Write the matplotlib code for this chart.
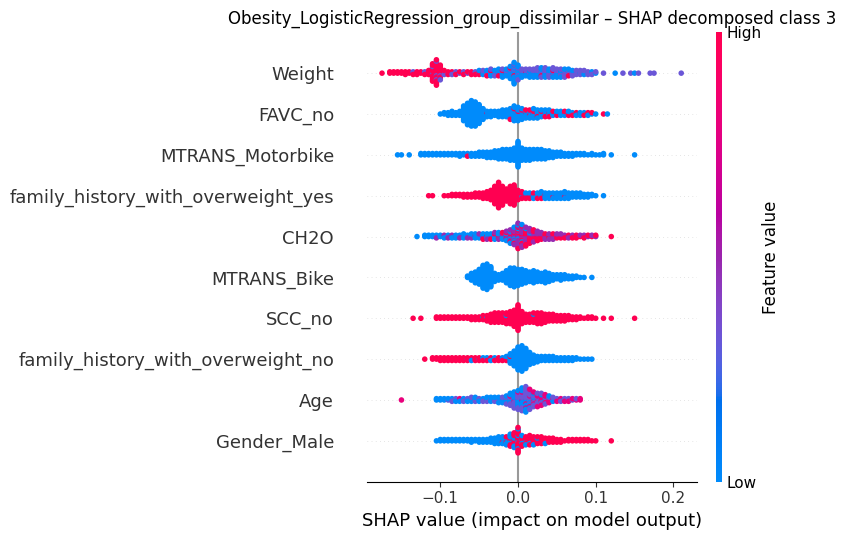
import numpy as np
import matplotlib
matplotlib.use("Agg")
import matplotlib.pyplot as plt
import matplotlib.cm as cm
from matplotlib.colors import LinearSegmentedColormap

# ---------------- data (SHAP value histograms, 0.005-wide bins) ----------------
BIN = 0.005
LOW_VAL, VIOLET_VAL, MID_VAL, HIGH_VAL = 0.0, 0.32, 0.48, 1.0

features = ["Weight", "FAVC_no", "MTRANS_Motorbike", "family_history_with_overweight_yes",
            "CH2O", "MTRANS_Bike", "SCC_no", "family_history_with_overweight_no",
            "Age", "Gender_Male"]

weight_start = -0.175
weight_low = [0,0,0,0,0,0,0,0,0,0, 0,0,0,0,0,0,0,0,0,0, 0,0,0,0,0,1,2,3,3,3,
              4,4,4,7,12,8,4,3,4,4, 4,4,4,3,3,3,3,2,2,2, 1,1,1,1,1,1,0,0,0,0,
              1,0,0,0,0,1,0,0,0,0, 0,0,0,0,0,0,0,0]
weight_mid = [0,0,0,0,0,0,0,0,1,0, 0,1,1,2,3,2,1,1,1,1, 1,1,1,1,1,1,1,1,2,1,
              1,2,1,2,4,4,3,2,3,3, 4,3,4,4,4,4,4,5,3,3, 3,3,3,2,2,1,0,1,0,0,
              0,0,1,0,1,0,1,0,0,1, 1,0,0,0,0,0,0,1]
weight_high = [1,0,2,2,2,2,3,2,2,3, 2,2,3,12,17,10,3,2,2,2, 1,2,1,2,2,2,1,1,1,1,
               1,1,1,1,1,0,0,1,0,0, 0,1,0,0,1,0,0,0,1,0, 0,0,0,0,0,0,0,0,0,0,
               0,0,0,0,0,0,0,0,0,0, 0,0,0,0,0,0,0,0]

favc_start = -0.100
favc_low = [1,2,3,4,3,4,12,17,20,19, 15,9,4,5,4,5,6,6,8,11, 10,7,5,5,5,5,4,4,4,3,
            3,3,2,2,2,2,2,2,1,1, 1,0,0,1]
favc_high = [0,0,0,0,0,0,0,0,0,0, 0,0,1,0,0,0,0,0,1,1, 1,2,2,2,3,2,2,2,2,1,
             1,1,2,2,1,1,1,1,2,1, 0,0,1,0]

moto_start = -0.155
moto_low = [1,1,0,1,0,0,2,2,2,2, 2,2,2,2,2,2,3,2,2,3, 3,4,4,5,5,6,7,8,8,9,
            10,20,10,9,9,8,8,8,7,6, 5,4,4,3,3,3,2,2,2,1, 2,1,1,2,0,1,0,0,0,0,
            0,1]
moto_high = [0,0,0,0,0,0,0,0,0,0, 0,0,0,0,0,0,0,0,1,0, 0,0,0,0,0,0,0,0,0,0,
             0,0,0,0,0,0,0,0,0,0, 0,0,0,0,0,0,0,0,0,0, 0,0,0,0,0,0,0,0,0,0,
             0,0]

fhy_start = -0.115
fhy_low = [0,0,0,0,0,0,0,0,0,0, 0,0,0,0,0,0,0,0,0,0, 0,0,0,0,1,2,2,3,3,5,
           4,5,4,5,5,5,5,4,4,4, 3,3,2,1,0,1]
fhy_high = [1,1,0,0,1,1,2,2,2,3, 3,3,4,4,5,6,8,14,20,15, 10,14,16,8,5,3,3,2,2,1,
            1,0,1,0,0,1,0,0,0,0, 0,0,0,0,0,0]

ch2o_start = -0.130
ch2o_low = [1,0,2,2,2,2,2,2,2,2, 2,2,3,2,3,3,3,3,3,3, 3,3,3,3,4,3,3,2,1,1,
            1,0,0,0,0,0,0,0,0,0, 0,0,0,0,0,0,0,0,0,0, 0]
ch2o_mid = [0,0,0,0,0,1,0,1,1,1, 1,1,1,1,1,1,1,1,1,1, 2,2,2,3,5,8,12,10,7,5,
            4,4,3,3,3,3,2,2,2,2, 2,1,1,1,1,1,1,0,0,0, 0]
ch2o_high = [0,0,0,0,0,0,0,0,0,0, 0,0,0,0,0,0,0,1,1,1, 1,1,1,2,2,3,5,6,7,6,
             5,4,3,2,2,2,2,2,1,1, 1,2,1,2,1,1,1,0,0,0, 1]

bike_start = -0.065
bike_low = [2,6,9,12,18,20,16,7,5,6, 10,14,15,13,12,10,8,10,8,7, 9,7,5,4,5,4,3,3,2,1,
            1,0,1]

scc_start = -0.135
scc_low = [0,0,0,0,0,0,0,0,0,0, 0,0,0,0,0,0,0,0,1,1, 0,0,0,0,1,0,0,0,0,0,
           0,1,0,0,0,0,0,0,0,0, 0,0,0,0,0,0,0,0,0,0, 0,0,0,0,0,0,0,0]
scc_high = [1,0,1,0,0,0,2,2,2,2, 2,2,2,2,2,3,3,3,3,4, 7,8,8,8,8,10,13,20,10,7,
            7,7,9,9,7,6,6,5,5,5, 4,3,3,2,1,2,2,1,0,1, 0,1,0,0,0,0,0,1]

fhn_start = -0.120
fhn_low = [0,0,0,0,0,0,0,0,0,0, 0,1,1,0,1,1,2,2,1,1, 1,2,7,12,18,20,16,10,7,5,
           4,4,4,4,3,3,3,3,3,2, 1,1,1,1]
fhn_high = [1,0,2,2,3,3,3,3,3,3, 3,2,2,3,2,2,1,1,2,2, 2,2,1,0,0,0,0,0,0,0,
            0,0,0,0,0,0,0,0,0,0, 0,0,0,0]

age_start = -0.150
age_low = [0,0,0,0,0,0,0,0,0,2, 2,2,1,2,2,2,2,2,3,3, 2,2,3,3,3,3,3,4,5,6,
           7,8,7,4,2,1,1,1,1,1, 1,0,0,0,0,0,0]
age_mid = [0,0,0,0,0,0,0,0,0,0, 0,0,1,1,1,0,1,1,1,1, 1,1,1,1,1,2,2,3,4,6,
           7,8,10,9,7,6,4,3,2,2, 1,2,1,2,1,1,0]
age_high = [1,0,0,0,0,0,0,0,0,0, 0,0,0,0,0,1,0,0,0,0, 0,0,0,0,0,0,0,0,1,1,
            1,2,3,3,3,4,5,4,3,1, 1,1,2,1,1,1,2]

gender_start = -0.105
gender_low = [1,2,2,2,2,2,2,2,2,3, 2,3,3,3,4,5,6,5,5,6, 5,4,3,2,2,1,1,1,1,0,
              0,0,0,0,0,0,0,0,0,0, 0,0,0,0,0,0]
gender_high = [0,0,0,0,0,0,0,0,0,0, 0,0,0,0,0,0,0,1,2,4, 7,16,6,5,6,6,5,5,4,4,
               4,3,3,1,2,2,2,2,2,2, 1,1,0,0,0,1]

rows = [
    (weight_start, [(weight_low, LOW_VAL), (weight_mid, VIOLET_VAL), (weight_high, HIGH_VAL)]),
    (favc_start, [(favc_low, LOW_VAL), (favc_high, HIGH_VAL)]),
    (moto_start, [(moto_low, LOW_VAL), (moto_high, HIGH_VAL)]),
    (fhy_start, [(fhy_low, LOW_VAL), (fhy_high, HIGH_VAL)]),
    (ch2o_start, [(ch2o_low, LOW_VAL), (ch2o_mid, MID_VAL), (ch2o_high, HIGH_VAL)]),
    (bike_start, [(bike_low, LOW_VAL)]),
    (scc_start, [(scc_low, LOW_VAL), (scc_high, HIGH_VAL)]),
    (fhn_start, [(fhn_low, LOW_VAL), (fhn_high, HIGH_VAL)]),
    (age_start, [(age_low, LOW_VAL), (age_mid, VIOLET_VAL), (age_high, 0.8)]),
    (gender_start, [(gender_low, LOW_VAL), (gender_high, HIGH_VAL)]),
]

# ---------------- SHAP red_blue colormap (LCH interpolation) ----------------
def lch2rgb(l, c, h):
    a = c * np.cos(h)
    b = c * np.sin(h)
    fy = (l + 16) / 116.0
    fx = fy + a / 500.0
    fz = fy - b / 200.0
    def finv(t):
        return np.where(t > 6 / 29, t ** 3, 3 * (6 / 29) ** 2 * (t - 4 / 29))
    xyz = np.array([0.95047 * finv(fx), finv(fy), 1.08883 * finv(fz)])
    M = np.array([[3.2406, -1.5372, -0.4986],
                  [-0.9689, 1.8758, 0.0415],
                  [0.0557, -0.2040, 1.0570]])
    rgb = M @ xyz
    rgb = np.where(rgb <= 0.0031308, 12.92 * rgb, 1.055 * np.abs(rgb) ** (1 / 2.4) - 0.055)
    return np.clip(rgb, 0, 1)

blue_lch = [54., 70., 4.6588]
red_lch = [54., 90., 0.35470565 + 2 * np.pi]
l_mid = 40.
nsteps = 100
l_vals = list(np.linspace(blue_lch[0], l_mid, nsteps // 2)) + list(np.linspace(l_mid, red_lch[0], nsteps // 2))
c_vals = np.linspace(blue_lch[1], red_lch[1], nsteps)
h_vals = np.linspace(blue_lch[2], red_lch[2], nsteps)
cols = [lch2rgb(l, c, h) for l, c, h in zip(l_vals, c_vals, h_vals)]
cmap = LinearSegmentedColormap.from_list("red_blue", cols)

# ---------------- figure ----------------
W, H = 845, 540
fig = plt.figure(figsize=(W / 100, H / 100), dpi=100)
ax_l, ax_r, ax_t, ax_b = 366.7, 696.7, 32.3, 481.7
ax = fig.add_axes([ax_l / W, (H - ax_b) / H, (ax_r - ax_l) / W, (ax_b - ax_t) / H])
cax = fig.add_axes([716 / W, (H - ax_b) / H, 6 / W, (ax_b - ax_t) / H])

ax.axvline(x=0, color="#999999", zorder=-1)
n = len(features)
row_height = 0.4
GOLD = 0.6180339887
for i, (start, cats) in enumerate(rows):
    pos = n - 1 - i
    ax.axhline(y=pos, color="#cccccc", lw=0.5, dashes=(1, 5), zorder=-1)
    nb = len(cats[0][0])
    for counts, _ in cats:
        assert len(counts) == nb, (features[i], len(counts), nb)
    xs, ys, cs = [], [], []
    for k in range(nb):
        pts = []
        for ci, (counts, cval) in enumerate(cats):
            m = counts[k]
            # deterministic interleaving of colours inside a bin
            pts += [(((j + 0.5) / m + 0.37 * ci + GOLD * k) % 1.0, cval) for j in range(m)]
        pts.sort(key=lambda p: p[0])
        for layer, (_, cval) in enumerate(pts):
            xs.append(round(start + BIN * k, 4))
            ys.append(np.ceil(layer / 2) * ((layer % 2) * 2 - 1))
            cs.append(cval)
    ys = np.array(ys, dtype=float)
    ys *= 0.9 * (row_height / np.max(ys + 1))
    ax.scatter(xs, pos + ys, c=cs, cmap=cmap, vmin=0, vmax=1, s=16,
               linewidths=0, zorder=3)

axis_color = "#333333"
ax.xaxis.set_ticks_position("bottom")
ax.yaxis.set_ticks_position("none")
for s in ["right", "top", "left"]:
    ax.spines[s].set_visible(False)
ax.tick_params(color=axis_color, labelcolor=axis_color)
ax.set_yticks(range(n))
ax.set_yticklabels(features[::-1], fontsize=13)
ax.tick_params("y", length=20, width=0.5, which="major")
ax.tick_params("x", labelsize=11)
ax.set_ylim(-1, n)
ax.set_xlim(-0.1947, 0.2299)
ax.set_xticks([-0.1, 0.0, 0.1, 0.2])
ax.set_xlabel("SHAP value (impact on model output)", fontsize=13)
ax.set_title("Obesity_LogisticRegression_group_dissimilar \u2013 SHAP decomposed class 3", fontsize=12)

m = cm.ScalarMappable(cmap=cmap)
m.set_array([0, 1])
cb = fig.colorbar(m, cax=cax, ticks=[0, 1])
cb.set_ticklabels(["Low", "High"])
cb.set_label("Feature value", size=12, labelpad=0)
cb.ax.tick_params(labelsize=11, length=0)
cb.outline.set_visible(False)

fig.savefig("out.png", dpi=100)
